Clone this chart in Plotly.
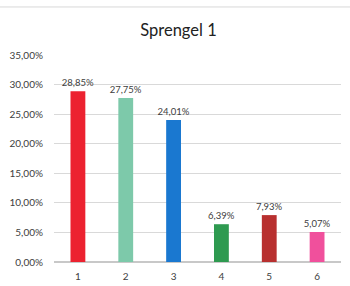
import plotly.graph_objects as go

categories = ["1", "2", "3", "4", "5", "6"]
values = [0.2885, 0.2775, 0.2401, 0.0639, 0.0793, 0.0507]
colors = ["#EC2230", "#7DC9AA", "#1A78D0", "#2E9A50", "#B8302F", "#F0509C"]
tick_vals = [0, 0.05, 0.10, 0.15, 0.20, 0.25, 0.30, 0.35]

fig = go.Figure(go.Bar(
    x=categories, y=values,
    marker=dict(color=colors, line=dict(width=0)),
    width=0.31,
    texttemplate="%{y:.2%}", textposition="outside",
    constraintext="none",
    textfont=dict(size=9.5, color="#404040"),
    cliponaxis=False,
    hoverinfo="skip",
))

fig.update_layout(
    width=350, height=286,
    margin=dict(l=54, r=9, t=55, b=24),
    paper_bgcolor="white", plot_bgcolor="white",
    separators=",.",
    font=dict(family="Lato, Open Sans, sans-serif", size=10, color="#404040"),
    title=dict(text="Sprengel 1", x=0.51, xanchor="center", y=0.895, yanchor="middle",
               font=dict(size=16.5, color="#222222")),
    showlegend=False,
    shapes=[dict(type="line", xref="paper", yref="paper", x0=-0.2, x1=1.05, y0=1.232, y1=1.232,
                 line=dict(color="#d8d8d8", width=1))],
)
fig.update_yaxes(range=[0, 0.35], tickvals=tick_vals, tickformat=".2%", automargin=False,
                 showgrid=True, gridcolor="#d9d9d9", gridwidth=1,
                 zeroline=True, zerolinecolor="#c8c8c8", ticks="", ticklabelstandoff=10,
                 tickfont=dict(size=10, color="#404040"))
fig.update_xaxes(showgrid=False, ticks="", ticklabelstandoff=7, automargin=False,
                 tickfont=dict(size=10, color="#404040"), showline=False)

fig.write_html("out.html", config={"displayModeBar": False, "staticPlot": True},
               post_script="document.body.style.margin='0';document.body.style.overflow='hidden';")
